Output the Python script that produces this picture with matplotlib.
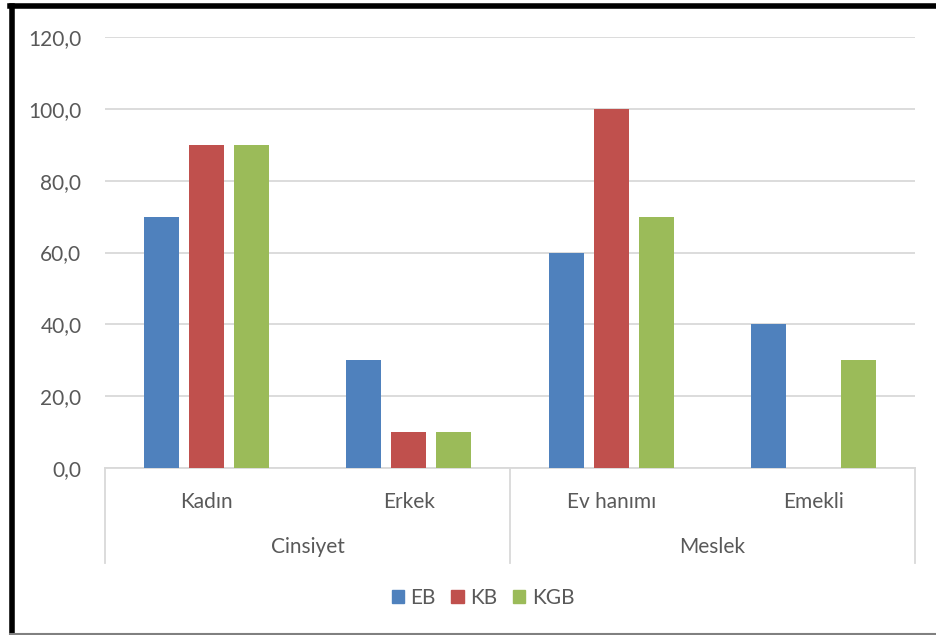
import numpy as np
import matplotlib.pyplot as plt
from matplotlib.lines import Line2D
from matplotlib.patches import Patch
from matplotlib.ticker import FuncFormatter

# Veriler
kategoriler = ['Kadın', 'Erkek', 'Ev hanımı', 'Emekli']
gruplar = ['Cinsiyet', 'Meslek']
seriler = ['EB', 'KB', 'KGB']
eb = [70, 30, 60, 40]
kb = [90, 10, 100, 0]
kgb = [90, 10, 70, 30]

renkler = ['#4F81BD', '#C0504D', '#9BBB59']
gri_yazi = '#595959'
cizgi = '#D9D9D9'

plt.rcParams['font.family'] = ['Lato', 'DejaVu Sans']
yazi_boyu = 15

fig = plt.figure(figsize=(9.36, 6.35), dpi=100)
ax = fig.add_axes([0.1122, 0.263, 0.8654, 0.6787])

x = np.arange(len(kategoriler)) + 0.5
genislik = 0.173
kayma = 0.222
for i, (ad, degerler) in enumerate(zip(seriler, [eb, kb, kgb])):
    ax.bar(x + (i - 1) * kayma, degerler, width=genislik, color=renkler[i],
           linewidth=0, zorder=3, label=ad)

ax.set_xlim(0, 4)
ax.set_ylim(0, 120)
ax.set_yticks(np.arange(0, 121, 20))
ax.yaxis.set_major_formatter(FuncFormatter(lambda v, p: f'{v:.1f}'.replace('.', ',')))
ax.tick_params(axis='y', length=0, labelsize=yazi_boyu, colors=gri_yazi, pad=17)
ax.set_xticks([])
ax.grid(axis='y', color=cizgi, linewidth=1.3, zorder=0)
for s in ['top', 'right', 'left']:
    ax.spines[s].set_visible(False)
ax.spines['bottom'].set_color(cizgi)
ax.spines['bottom'].set_linewidth(1.3)

# Kategori ve grup etiketleri
tr = ax.get_xaxis_transform()
for xi, ad in zip(x, kategoriler):
    ax.text(xi, -0.078, ad, transform=tr, ha='center', va='center',
            fontsize=yazi_boyu, color=gri_yazi)
for gi, ad in enumerate(gruplar):
    ax.text(gi * 2 + 1, -0.184, ad, transform=tr, ha='center', va='center',
            fontsize=yazi_boyu, color=gri_yazi)
for xs in [0, 2, 4]:
    ax.add_line(Line2D([xs, xs], [0, -0.22], transform=tr, color=cizgi,
                       linewidth=1.3, clip_on=False))

# Lejant
tutucular = [Patch(color=r, label=s) for r, s in zip(renkler, seriler)]
fig.legend(handles=tutucular, loc='center', bbox_to_anchor=(0.516, 0.058),
           ncol=3, frameon=False, fontsize=yazi_boyu, handlelength=0.6,
           handleheight=0.6, handletextpad=0.3, columnspacing=0.75,
           labelcolor=gri_yazi)

# Çerçeve
fig.add_artist(Line2D([0.0128, 0.0128], [0, 0.9905], transform=fig.transFigure,
                      color='black', linewidth=4))
fig.add_artist(Line2D([0.0107, 1.0], [0.9905, 0.9905], transform=fig.transFigure,
                      color='black', linewidth=4))
fig.add_artist(Line2D([0.0107, 1.0], [0.0015, 0.0015], transform=fig.transFigure,
                      color='#808080', linewidth=1.5))

fig.savefig('out.png', dpi=100)
